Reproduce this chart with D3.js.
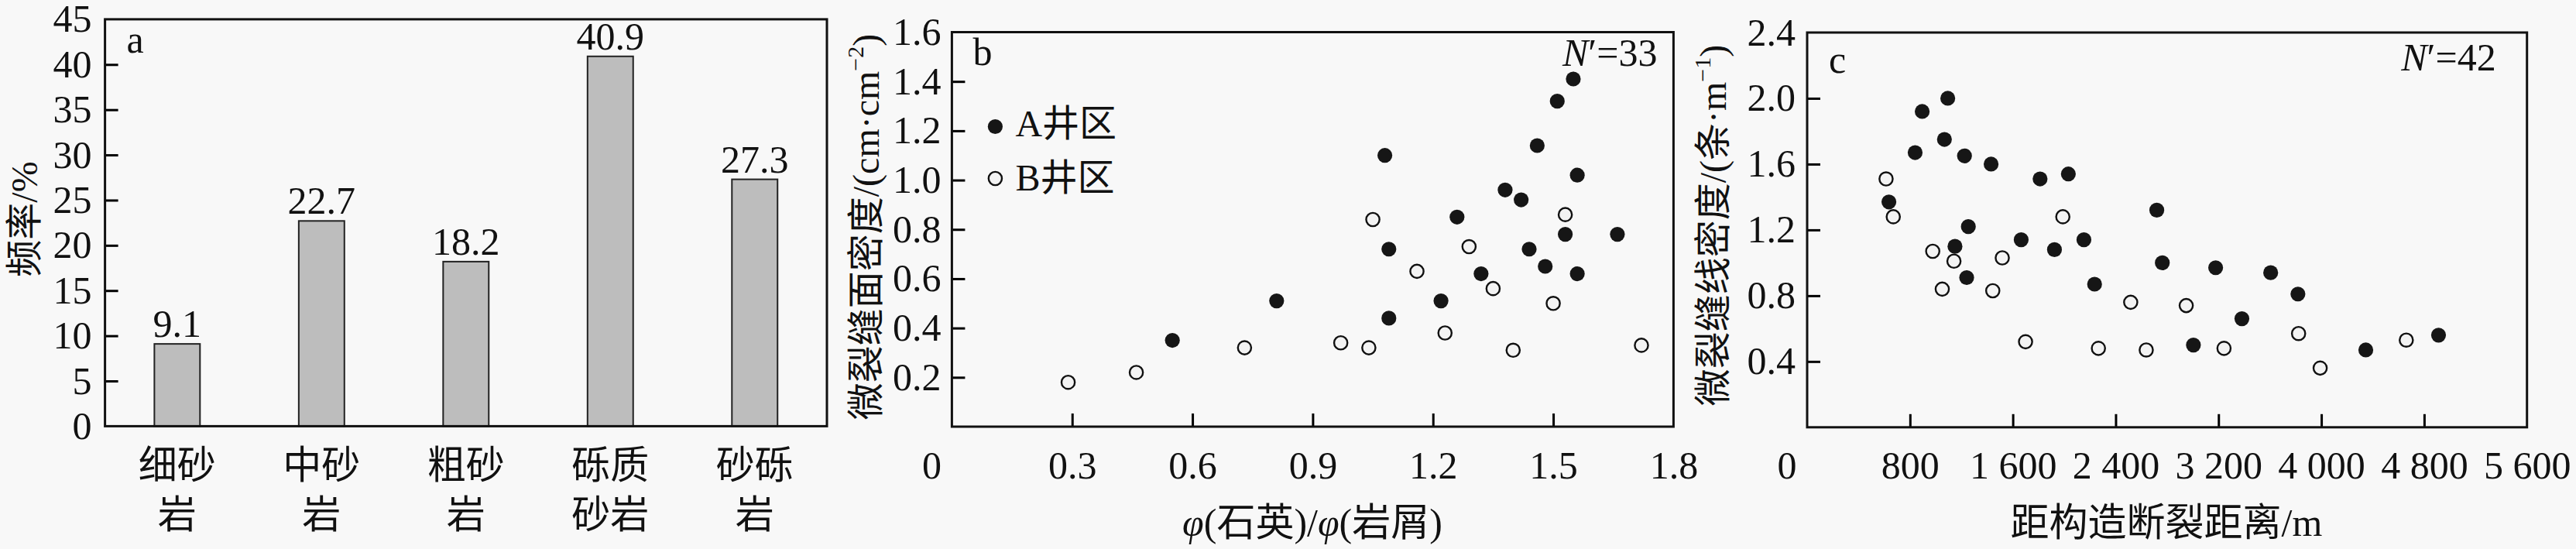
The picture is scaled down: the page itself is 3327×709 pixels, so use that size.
<!DOCTYPE html>
<html>
<head>
<meta charset="utf-8">
<script src="https://cdn.jsdelivr.net/npm/d3@7"></script>
<style>
  body { margin: 0; background: #f8f8f8; }
  text { font-family: "Liberation Serif", "Noto Sans CJK SC", serif; fill: #111; }
</style>
</head>
<body>
<svg id="fig" width="3327" height="709"></svg>
<script>
// ---- data ----
const rockTypes = ['细砂岩', '中砂岩', '粗砂岩', '砾质砂岩', '砂砾岩'];
const rockLabelLines = [['细砂', '岩'], ['中砂', '岩'], ['粗砂', '岩'], ['砾质', '砂岩'], ['砂砾', '岩']];
const frequency = [9.1, 22.7, 18.2, 40.9, 27.3];
const freqLabels = [0, 5, 10, 15, 20, 25, 30, 35, 40, 45];
const freqTicks = [5, 10, 15, 20, 25, 30, 35, 40];

// b: quartz/lithic ratio vs areal microfracture density
const ratioA = [
  [0.55, 0.35], [0.81, 0.51], [1.08, 1.10], [1.09, 0.72], [1.09, 0.44],
  [1.22, 0.51], [1.26, 0.85], [1.32, 0.62], [1.38, 0.96], [1.42, 0.92],
  [1.44, 0.72], [1.46, 1.14], [1.48, 0.65], [1.51, 1.32], [1.53, 0.78],
  [1.55, 1.41], [1.56, 1.02], [1.56, 0.62], [1.66, 0.78]
];
const ratioB = [
  [0.29, 0.18], [0.46, 0.22], [0.73, 0.32], [0.97, 0.34], [1.04, 0.32],
  [1.05, 0.84], [1.16, 0.63], [1.23, 0.38], [1.29, 0.73], [1.35, 0.56],
  [1.40, 0.31], [1.50, 0.50], [1.53, 0.86], [1.72, 0.33]
];
const ratioXLabels = [0.3, 0.6, 0.9, 1.2, 1.5, 1.8];
const ratioXTicks = [0.3, 0.6, 0.9, 1.2, 1.5];
const ratioYLabels = [0.2, 0.4, 0.6, 0.8, 1.0, 1.2, 1.4, 1.6];
const ratioYTicks = [0.2, 0.4, 0.6, 0.8, 1.0, 1.2, 1.4];

// c: distance to fault vs linear microfracture density
const distA = [
  [636, 1.37], [840, 1.67], [895, 1.92], [1068, 1.75], [1094, 2.00],
  [1150, 1.10], [1224, 1.65], [1241, 0.91], [1254, 1.22], [1431, 1.60],
  [1665, 1.14], [1812, 1.51], [1924, 1.08], [2032, 1.54], [2153, 1.14],
  [2236, 0.87], [2720, 1.32], [2763, 1.00], [3005, 0.50], [3178, 0.97],
  [3382, 0.66], [3606, 0.94], [3818, 0.81], [4346, 0.47], [4912, 0.56]
];
const distB = [
  [614, 1.51], [670, 1.28], [977, 1.07], [1051, 0.84], [1142, 1.01],
  [1444, 0.83], [1518, 1.03], [1699, 0.52], [1989, 1.28], [2266, 0.48],
  [2517, 0.76], [2638, 0.47], [2949, 0.74], [3243, 0.48], [3823, 0.57],
  [3991, 0.36], [4661, 0.53]
];
const distXLabels = [800, 1600, 2400, 3200, 4000, 4800, 5600];
const distXTicks = [800, 1600, 2400, 3200, 4000, 4800];
const distYLabels = [0.4, 0.8, 1.2, 1.6, 2.0, 2.4];
const distYTicks = [0.4, 0.8, 1.2, 1.6, 2.0];

const legendNames = ['A井区', 'B井区'];

// ---- drawing ----
const svg = d3.select('#fig');
const INK = '#111';

function drawFrame(g, w, h) {
  g.append('rect')
    .attr('width', w).attr('height', h)
    .attr('fill', 'none').attr('stroke', INK).attr('stroke-width', 3);
}

// labels and inward tick marks on the left side
function leftAxis(g, y, labels, ticks, fmt, pad) {
  g.append('g')
    .call(d3.axisLeft(y).tickValues(labels).tickSize(0).tickPadding(pad).tickFormat(fmt))
    .attr('font-size', 50).attr('font-family', null)
    .call(s => s.select('.domain').remove());
  g.append('g')
    .call(d3.axisLeft(y).tickValues(ticks).tickSizeInner(-17).tickSizeOuter(0).tickFormat(''))
    .call(s => s.select('.domain').remove())
    .selectAll('line').attr('stroke-width', 3);
}

function bottomAxis(g, x, h, labels, ticks, fmt) {
  g.append('g')
    .attr('transform', `translate(0,${h})`)
    .call(d3.axisBottom(x).tickValues(labels).tickSize(0).tickPadding(31).tickFormat(fmt))
    .attr('font-size', 50).attr('font-family', null)
    .call(s => s.select('.domain').remove());
  g.append('g')
    .attr('transform', `translate(0,${h})`)
    .call(d3.axisBottom(x).tickValues(ticks).tickSizeInner(-17).tickSizeOuter(0).tickFormat(''))
    .call(s => s.select('.domain').remove())
    .selectAll('line').attr('stroke-width', 3);
  // shared origin label sits left of the corner
  g.append('text')
    .attr('x', x(0) - 26).attr('y', h + 31).attr('dy', '0.71em')
    .attr('text-anchor', 'middle').attr('font-size', 50)
    .text('0');
}

function drawDots(g, x, y, filled, open) {
  g.append('g').selectAll('circle').data(open).join('circle')
    .attr('cx', d => x(d[0])).attr('cy', d => y(d[1])).attr('r', 8.6)
    .attr('fill', '#f3f3f3').attr('stroke', INK).attr('stroke-width', 2.4);
  g.append('g').selectAll('circle').data(filled).join('circle')
    .attr('cx', d => x(d[0])).attr('cy', d => y(d[1])).attr('r', 9.6)
    .attr('fill', '#161616');
}

function yTitle(x, y, main, sup) {
  const t = svg.append('text')
    .attr('transform', `translate(${x},${y}) rotate(-90)`)
    .attr('text-anchor', 'middle').attr('dy', '0.35em')
    .attr('font-size', 48);
  t.append('tspan').text(main);
  if (sup) {
    t.append('tspan').attr('font-size', 30).attr('dy', -20).text(sup);
    t.append('tspan').attr('dy', 20).text(')');
  }
  return t;
}

// ---------- panel a ----------
const pa = { left: 135.6, top: 24.9, width: 932.4, height: 525.5 };
const ga = svg.append('g').attr('transform', `translate(${pa.left},${pa.top})`);
const xa = d3.scaleBand().domain(rockTypes).range([0, pa.width]).paddingInner(0.684).paddingOuter(0.342);
const ya = d3.scaleLinear().domain([0, 45]).range([pa.height, 0]);

ga.selectAll('rect.bar').data(frequency).join('rect')
  .attr('class', 'bar')
  .attr('x', (d, i) => xa(rockTypes[i]))
  .attr('y', d => ya(d))
  .attr('width', xa.bandwidth())
  .attr('height', d => ya(0) - ya(d))
  .attr('fill', '#bdbdbd').attr('stroke', '#222').attr('stroke-width', 2);

ga.selectAll('text.val').data(frequency).join('text')
  .attr('class', 'val')
  .attr('x', (d, i) => xa(rockTypes[i]) + xa.bandwidth() / 2)
  .attr('y', d => ya(d) - 9)
  .attr('text-anchor', 'middle').attr('font-size', 50)
  .text(d => d.toFixed(1));

leftAxis(ga, ya, freqLabels, freqTicks, d3.format('d'), 17);

const cat = ga.selectAll('text.cat').data(rockLabelLines).join('text')
  .attr('class', 'cat')
  .attr('text-anchor', 'middle').attr('font-size', 50)
  .attr('transform', (d, i) => `translate(${xa(rockTypes[i]) + xa.bandwidth() / 2},${pa.height})`);
cat.selectAll('tspan').data(d => d).join('tspan')
  .attr('x', 0)
  .attr('y', (d, i) => 68 + i * 64)
  .text(d => d);

drawFrame(ga, pa.width, pa.height);
ga.append('text').attr('x', 28).attr('y', 43).attr('font-size', 50).text('a');
yTitle(31.5, 283, '频率/%');

// ---------- panel b ----------
const pb = { left: 1229.4, top: 41.5, width: 932, height: 509.5 };
const gb = svg.append('g').attr('transform', `translate(${pb.left},${pb.top})`);
const xb = d3.scaleLinear().domain([0, 1.8]).range([0, pb.width]);
const yb = d3.scaleLinear().domain([0, 1.6]).range([pb.height, 0]);

drawDots(gb, xb, yb, ratioA, ratioB);
leftAxis(gb, yb, ratioYLabels, ratioYTicks, d3.format('.1f'), 14);
bottomAxis(gb, xb, pb.height, ratioXLabels, ratioXTicks, d3.format('.1f'));
drawFrame(gb, pb.width, pb.height);

gb.append('text').attr('x', 27).attr('y', 42).attr('font-size', 50).text('b');
const nb = gb.append('text').attr('x', pb.width - 21).attr('y', 43)
  .attr('text-anchor', 'end').attr('font-size', 50);
nb.append('tspan').attr('font-style', 'italic').text('N');
nb.append('tspan').text('′=33');

// legend
const leg = gb.append('g').attr('transform', 'translate(56,122)');
leg.append('circle').attr('cx', 0).attr('cy', 0).attr('r', 9.6).attr('fill', '#161616');
leg.append('circle').attr('cx', 0).attr('cy', 67).attr('r', 8.6)
  .attr('fill', '#f3f3f3').attr('stroke', INK).attr('stroke-width', 2.4);
leg.selectAll('text').data(legendNames).join('text')
  .attr('x', 26).attr('y', (d, i) => i * 70 + 12)
  .attr('font-size', 48).text(d => d);

yTitle(1118, 293, '微裂缝面密度/(cm·cm', '−2');
const xtb = svg.append('text')
  .attr('x', 1695).attr('y', 674).attr('dy', '0.35em')
  .attr('text-anchor', 'middle').attr('font-size', 50);
xtb.append('tspan').attr('font-style', 'italic').text('φ');
xtb.append('tspan').text('(石英)/');
xtb.append('tspan').attr('font-style', 'italic').text('φ');
xtb.append('tspan').text('(岩屑)');

// ---------- panel c ----------
const pc = { left: 2334, top: 42, width: 929.7, height: 509.8 };
const gc = svg.append('g').attr('transform', `translate(${pc.left},${pc.top})`);
const xc = d3.scaleLinear().domain([0, 5600]).range([0, pc.width]);
const yc = d3.scaleLinear().domain([0, 2.4]).range([pc.height, 0]);
const spaced = v => d3.format(',')(v).replace(',', ' ');

drawDots(gc, xc, yc, distA, distB);
leftAxis(gc, yc, distYLabels, distYTicks, d3.format('.1f'), 15);
bottomAxis(gc, xc, pc.height, distXLabels, distXTicks, spaced);
drawFrame(gc, pc.width, pc.height);

gc.append('text').attr('x', 28).attr('y', 52).attr('font-size', 50).text('c');
const nc = gc.append('text').attr('x', pc.width - 40).attr('y', 49)
  .attr('text-anchor', 'end').attr('font-size', 50);
nc.append('tspan').attr('font-style', 'italic').text('N');
nc.append('tspan').text('′=42');

yTitle(2212, 291, '微裂缝线密度/(条·m', '−1');
svg.append('text')
  .attr('x', 2798).attr('y', 674).attr('dy', '0.35em')
  .attr('text-anchor', 'middle').attr('font-size', 50)
  .text('距构造断裂距离/m');
</script>
</body>
</html>
